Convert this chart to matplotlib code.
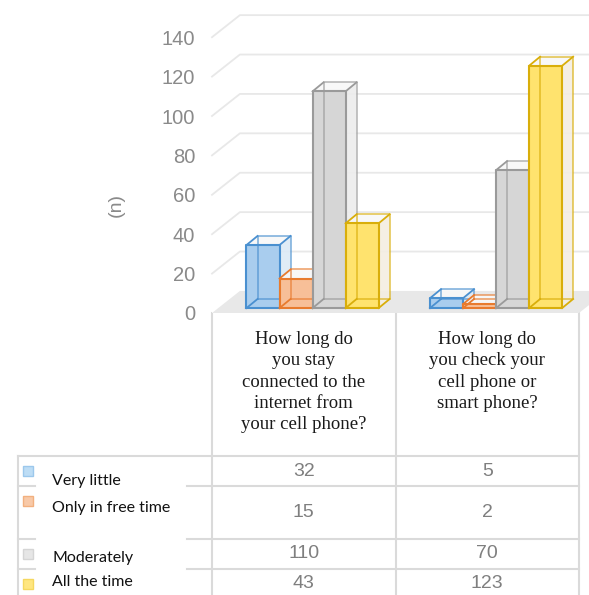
import matplotlib.pyplot as plt
from matplotlib.patches import Polygon, Rectangle
from matplotlib.lines import Line2D
import matplotlib.transforms as mtransforms

# data
questions = [
    "How long do\nyou stay\nconnected to the\ninternet from\nyour cell phone?",
    "How long do\nyou check your\ncell phone or\nsmart phone?",
]
series = ["Very little", "Only in free time", "Moderately", "All the time"]
very_little = [32, 5]
free_time = [15, 2]
moderately = [110, 70]
all_the_time = [43, 123]
values = [very_little, free_time, moderately, all_the_time]
yticks = [0, 20, 40, 60, 80, 100, 120, 140]

fills = ['#A9CDEE', '#F7BF98', '#D6D6D6', '#FFE36E']
edges = ['#4A90D0', '#E87B2E', '#9A9A9A', '#D9AE0A']
side_fills = ['#DCEAF6', '#FBE3D2', '#EDEDED', '#F4EEE2']
swatch_fill = ['#BDDDF5', '#F8C9A8', '#E6E6E6', '#FFE680']
swatch_edge = ['#9CC8EC', '#F2B07F', '#D5D5D5', '#F5D860']

fig = plt.figure(figsize=(5.89, 5.95), dpi=100)
fig.patch.set_facecolor('white')

ax = fig.add_axes([212 / 589, 282 / 595, 367 / 589, 295.5 / 595])
ax.set_xlim(-0.5, 1.5)
ax.set_ylim(0, 150)
for s in ax.spines.values():
    s.set_visible(False)
ax.set_xticks([])
ax.set_yticks(yticks)
ax.tick_params(axis='y', length=0, pad=12, labelsize=14.5, labelcolor='#8A8A8A')
for lab in ax.get_yticklabels():
    lab.set_fontfamily('Liberation Sans')

# perspective offsets
gdx, gdy = 0.152, 11.2   # back wall
bdx, bdy = 0.06, 4.6     # bar depth
base = 2.5
grid_c = '#E8E8E8'

# floor
ax.add_patch(Polygon([(-0.5, 0), (1.5, 0), (1.5 + gdx, gdy), (-0.5 + gdx, gdy)],
                     closed=True, facecolor='#E8E8E8', edgecolor='none',
                     zorder=1, clip_on=False))

# back wall grid
for v in yticks:
    if v == 0:
        continue
    ax.plot([-0.5, -0.5 + gdx, 1.62], [v, v + gdy, v + gdy], color=grid_c,
            lw=1.3, zorder=0, clip_on=False)

# bars
w = 0.18
shift = 0.048
for i in range(len(questions)):
    for j, vals in enumerate(values):
        v = vals[i]
        x0 = i + shift - 2 * w + j * w
        x1 = x0 + w
        y0 = base
        y1 = base + v
        ec = edges[j]
        z = 3 + j
        # side face
        ax.add_patch(Polygon([(x1, y0), (x1 + bdx, y0 + bdy), (x1 + bdx, y1 + bdy), (x1, y1)],
                             closed=True, facecolor=side_fills[j], edgecolor='none',
                             alpha=0.9, zorder=z))
        # top face
        ax.add_patch(Polygon([(x0, y1), (x0 + bdx, y1 + bdy), (x1 + bdx, y1 + bdy), (x1, y1)],
                             closed=True, facecolor='#F8F8F8', edgecolor='none',
                             alpha=0.9, zorder=z))
        # front face
        ax.bar(x0, v, width=w, bottom=y0, align='edge', color=fills[j],
               edgecolor='none', zorder=z)
        # all edges (transparent box)
        fx = [x0, x1, x1, x0, x0]
        fy = [y0, y0, y1, y1, y0]
        ax.plot(fx, fy, color=ec, lw=1.5, zorder=z + 0.5)
        ax.plot([a + bdx for a in fx], [b + bdy for b in fy], color=ec, lw=1.1,
                alpha=0.75, zorder=z + 0.4)
        for a, b in [(x0, y0), (x1, y0), (x1, y1), (x0, y1)]:
            ax.plot([a, a + bdx], [b, b + bdy], color=ec, lw=1.3, zorder=z + 0.5)

# overlay in pixel coordinates for the data table
tab = fig.add_axes([0, 0, 1, 1], zorder=-1)
tab.set_xlim(0, 589)
tab.set_ylim(595, 0)
tab.axis('off')
tab.patch.set_alpha(0)
mix = mtransforms.blended_transform_factory(ax.transData, tab.transData)

tab.text(116, 205, '(n)', rotation=90, ha='center', va='center', fontsize=14,
         fontfamily='Liberation Sans', color='#8A8A8A')

line_c = '#DADADA'
row_lines = [456, 486, 539, 569, 597]
# vertical column borders
for xb in [-0.5, 0.5, 1.5]:
    tab.add_line(Line2D([xb, xb], [313, 595], color=line_c, lw=1.5, transform=mix))
tab.plot([18, 18], [456, 595], color=line_c, lw=1.5)
tab.plot([18, 579], [456, 456], color=line_c, lw=1.5)
for yl in row_lines[1:4]:
    tab.plot([18, 35], [yl, yl], color=line_c, lw=1.5)
    tab.plot([187, 579], [yl, yl], color=line_c, lw=1.5)

# question headers
for i, q in enumerate(questions):
    tab.text(i, 331, q, transform=mix, ha='center', va='top', fontsize=13.5,
             fontfamily='Liberation Serif', color='#1A1A1A', linespacing=1.33)

# table values
for j, vals in enumerate(values):
    yc = (row_lines[j] + row_lines[j + 1]) / 2
    for i, v in enumerate(vals):
        tab.text(i, yc, str(v), transform=mix, ha='center', va='center',
                 fontsize=14, fontfamily='Liberation Sans', color='#7F7F7F')

# legend
sw_y = [471, 501, 554, 584]
lab_y = [481, 508, 558, 582]
for j, name in enumerate(series):
    tab.add_patch(Rectangle((23, sw_y[j] - 5), 10, 10, facecolor=swatch_fill[j],
                            edgecolor=swatch_edge[j], lw=1))
    tab.text(52, lab_y[j], name, ha='left', va='center', fontsize=11.5,
             fontfamily='Lato', color='#111111')

fig.savefig('out.png', dpi=100, facecolor='white')
